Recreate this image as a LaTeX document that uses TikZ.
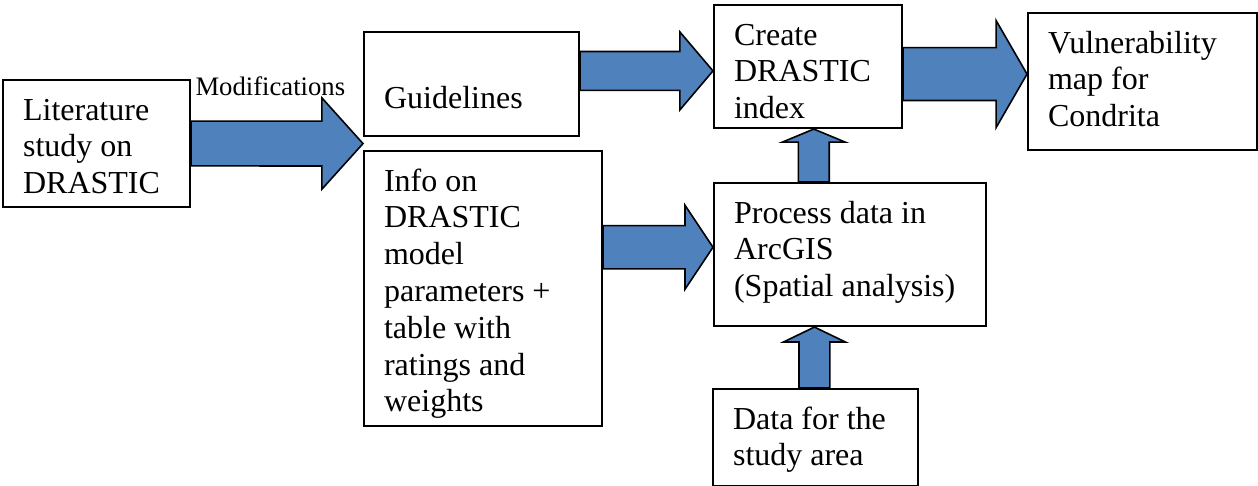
\documentclass[tikz,border=0pt]{standalone}
\usepackage{fontspec}
\setmainfont{Liberation Serif}
\usetikzlibrary{calc}
\definecolor{arrowblue}{HTML}{4F81BD}

% text of a box: top aligned, fixed size
\newcommand{\stagetext}[3]{\parbox[c][#2][t]{#1}{\raggedright\leftskip=7.5pt\rule{0pt}{15pt}#3}}

\begin{document}
\begin{tikzpicture}[x=0.375pt,y=-0.375pt,
  stage/.style={draw,line width=0.8pt,anchor=north west,inner sep=0pt,font=\fontsize{12}{13.8}\selectfont},
  blockarrow/.style n args={3}{fill=arrowblue,draw=black,line width=0.6pt,
    to path={($(\tikztostart)!#1!90:(\tikztotarget)$)
      -- ($(\tikztotarget)!#3!(\tikztostart)!#1!-90:(\tikztostart)$)
      -- ($(\tikztotarget)!#3!(\tikztostart)!#2!-90:(\tikztostart)$)
      -- (\tikztotarget)
      -- ($(\tikztotarget)!#3!(\tikztostart)!#2!90:(\tikztostart)$)
      -- ($(\tikztotarget)!#3!(\tikztostart)!#1!90:(\tikztostart)$)
      -- ($(\tikztostart)!#1!-90:(\tikztotarget)$) -- cycle}}]
  \useasboundingbox (0,0) rectangle (1258,486);

  \node[stage] (lit) at (2,79) {\stagetext{70.1pt}{47.6pt}{Literature\\study on\\DRASTIC}};
  \node[stage] (guide) at (363,31) {\stagetext{80.6pt}{39pt}{\\Guidelines}};
  \node[stage] (info) at (363,150) {\stagetext{89.2pt}{103.1pt}{Info on\\DRASTIC\\model\\parameters +\\table with\\ratings and\\weights}};
  \node[stage] (create) at (713,4) {\stagetext{70.5pt}{46.1pt}{Create\\DRASTIC\\index}};
  \node[stage] (vuln) at (1027,12) {\stagetext{85.9pt}{51.4pt}{Vulnerability\\map for\\Condrita}};
  \node[stage] (process) at (713,182) {\stagetext{102pt}{53.6pt}{Process data in\\ArcGIS\\(Spatial analysis)}};
  \node[stage] (data) at (712,388) {\stagetext{76.9pt}{36.2pt}{Data for the\\study area}};

  \node[anchor=base west,inner sep=0pt,font=\fontsize{10}{12}\selectfont] (modlabel) at (195,95) {Modifications};

  % where the arrows point
  \coordinate (gap) at ($(guide.south west)!0.5!(info.north west)$);
  \coordinate (indexin) at ($(create.west)!0.25!(create.west |- guide.east)$);
  \coordinate (mapin) at ($(vuln.west)!0.5!(vuln.west |- create.east)$);
  \coordinate (gisin) at ($(process.north west)!0.45!(process.south west)$);
  \coordinate (indexbase) at ($(create.south west)!0.53!(create.south east)$);
  \coordinate (gisbase) at ($(process.south west)!0.37!(process.south east)$);

  \draw[blockarrow={8.4pt}{17.1pt}{15.4pt}] (lit.east) to (gap);
  \draw[blockarrow={7.3pt}{14.6pt}{12.4pt}] (guide.east |- indexin) to (indexin);
  \draw[blockarrow={9.9pt}{20.1pt}{11.6pt}] (create.east |- mapin) to (mapin);
  \draw[blockarrow={8.1pt}{15.75pt}{10.5pt}] (info.east |- gisin) to (gisin);
  \draw[blockarrow={5.8pt}{11.8pt}{4.9pt}] (indexbase |- process.north) to (indexbase);
  \draw[blockarrow={5.8pt}{11.6pt}{5.6pt}] (gisbase |- data.north) to (gisbase);
\end{tikzpicture}
\end{document}
